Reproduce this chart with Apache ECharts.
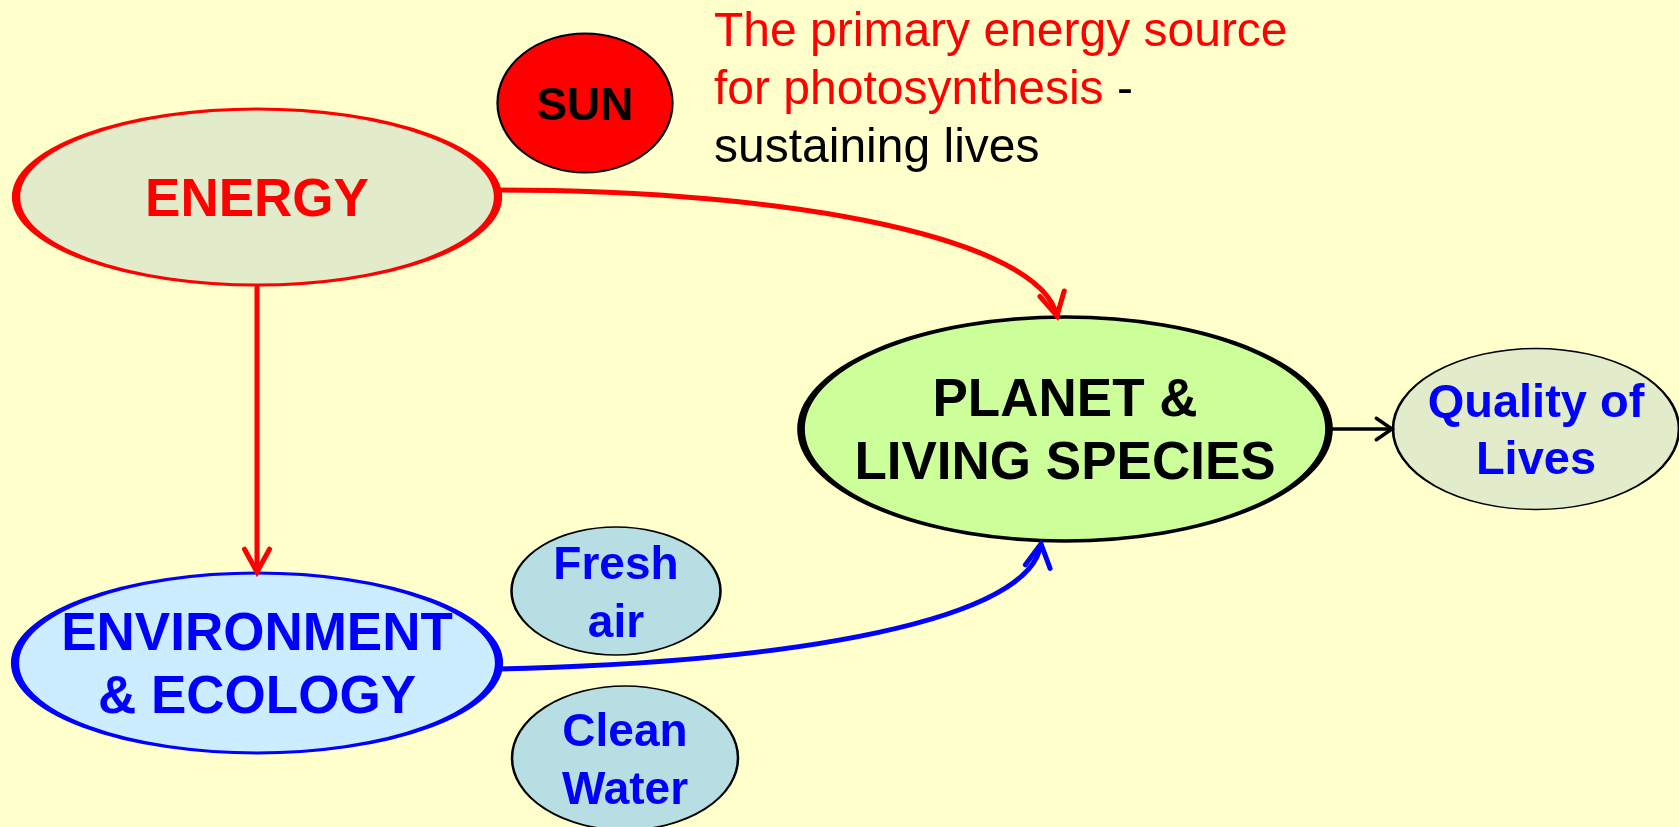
<!DOCTYPE html>
<html>
<head>
<meta charset="utf-8">
<script src="https://cdn.jsdelivr.net/npm/echarts@6/dist/echarts.min.js"></script>
<style>
  html, body { margin: 0; padding: 0; background: #FFFFCC; }
  #main { width: 1679px; height: 827px; }
</style>
</head>
<body>
<div id="main"></div>
<script type="text/javascript">
    // 节点：名称和中心点
    var nodeNames = ['ENERGY', 'SUN', 'PLANET &\nLIVING SPECIES', 'Quality of\nLives', 'ENVIRONMENT\n& ECOLOGY', 'Fresh\nair', 'Clean\nWater'];
    var nodeX = [257, 585, 1065, 1536, 257, 616, 625];
    var nodeY = [197, 103, 429, 429, 663, 591, 758];

    // 连线：起点、两个控制点、终点
    var edgeNames = ['ENERGY→PLANET', 'ENERGY→ENVIRONMENT', 'ENVIRONMENT→PLANET', 'PLANET→Quality'];
    var edgePoints = [
        [498, 190, 800, 190, 1040, 240, 1057, 316],
        [257, 286, 257, 286, 257, 572, 257, 572],
        [498, 669, 800, 662, 1030, 620, 1041, 544],
        [1330, 429, 1330, 429, 1392, 429, 1392, 429]
    ];

    // 说明文字
    var noteLines = ['The primary energy source', 'for photosynthesis', ' -', 'sustaining lives'];

    var font = "'Liberation Sans', Arial, sans-serif";

    // 样式（和数据分开放）
    var nodeStyles = [
        { size: [482, 176], fill: '#E2ECCB', border: '#FF0000', bw: 5, color: '#FF0000', fs: 53, lh: 63 },
        { size: [175, 139], fill: '#FF0000', border: '#000000', bw: 2, color: '#000000', fs: 46, lh: 56 },
        { size: [528, 224], fill: '#CCFF99', border: '#000000', bw: 5, color: '#000000', fs: 53, lh: 63 },
        { size: [286, 161], fill: '#E2ECCB', border: '#000000', bw: 2, color: '#0000FF', fs: 47, lh: 57 },
        { size: [484, 180], fill: '#CCECFF', border: '#0000FF', bw: 5, color: '#0000FF', fs: 53, lh: 63 },
        { size: [209, 128], fill: '#B7DEE3', border: '#000000', bw: 2, color: '#0000FF', fs: 46, lh: 58 },
        { size: [226, 144], fill: '#B7DEE3', border: '#000000', bw: 2, color: '#0000FF', fs: 46, lh: 58 }
    ];
    var edgeStyles = [
        { color: '#FF0000', width: 5, arm: 26, angle: 0.5 },
        { color: '#FF0000', width: 5, arm: 26, angle: 0.5 },
        { color: '#0000FF', width: 5, arm: 26, angle: 0.5 },
        { color: '#000000', width: 3.5, arm: 19, angle: 0.6 }
    ];

    var myChart = echarts.init(document.getElementById('main'));

    var nodeData = nodeNames.map(function (name, i) {
        var s = nodeStyles[i];
        return {
            name: name,
            value: [nodeX[i], nodeY[i]],
            symbolSize: s.size,
            itemStyle: { color: s.fill, borderColor: s.border, borderWidth: s.bw, opacity: 1 },
            label: { color: s.color, fontSize: s.fs, lineHeight: s.lh }
        };
    });

    var option = {
        backgroundColor: '#FFFFCC',
        animation: false,
        grid: { left: 0, right: 0, top: 0, bottom: 0 },
        xAxis: { type: 'value', min: 0, max: 1679, show: false },
        yAxis: { type: 'value', min: 0, max: 827, inverse: true, show: false },
        series: [{
            type: 'scatter',
            silent: true,
            symbol: 'circle',
            clip: false,
            data: nodeData,
            z: 2,
            itemStyle: { opacity: 1 },
            label: {
                show: true,
                position: 'inside',
                offset: [0, 4],
                formatter: '{b}',
                fontFamily: font,
                fontWeight: 'bold',
                align: 'center',
                verticalAlign: 'middle'
            }
        }, {
            type: 'scatter',
            silent: true,
            symbolSize: 0,
            z: 3,
            itemStyle: { opacity: 1 },
            data: [{ name: 'note', value: [714, 91] }],
            label: {
                show: true,
                position: 'inside',
                align: 'left',
                verticalAlign: 'middle',
                fontFamily: font,
                fontSize: 48,
                lineHeight: 58,
                formatter: function () {
                    return '{r|' + noteLines[0] + '}\n{r|' + noteLines[1] + '}{k|' + noteLines[2] + '}\n{k|' + noteLines[3] + '}';
                },
                rich: {
                    r: { color: '#FF0000', fontSize: 48, lineHeight: 58, fontFamily: font },
                    k: { color: '#000000', fontSize: 48, lineHeight: 58, fontFamily: font }
                }
            }
        }, {
            type: 'custom',
            silent: true,
            z: 4,
            data: edgePoints.map(function (p, i) { return { name: edgeNames[i], value: p }; }),
            renderItem: function (params, api) {
                var pts = [0, 1, 2, 3].map(function (k) {
                    return api.coord([api.value(2 * k), api.value(2 * k + 1)]);
                });
                var st = edgeStyles[params.dataIndex];
                var tip = pts[3];
                var dx = tip[0] - pts[2][0], dy = tip[1] - pts[2][1];
                if (Math.abs(dx) + Math.abs(dy) < 0.1) {
                    dx = tip[0] - pts[0][0]; dy = tip[1] - pts[0][1];
                }
                var len = Math.sqrt(dx * dx + dy * dy);
                dx /= len; dy /= len;
                function arm(a) {
                    var c = Math.cos(a), s = Math.sin(a);
                    var rx = dx * c - dy * s, ry = dx * s + dy * c;
                    return [tip[0] - rx * st.arm, tip[1] - ry * st.arm];
                }
                return {
                    type: 'group',
                    children: [{
                        type: 'bezierCurve',
                        shape: {
                            x1: pts[0][0], y1: pts[0][1],
                            cpx1: pts[1][0], cpy1: pts[1][1],
                            cpx2: pts[2][0], cpy2: pts[2][1],
                            x2: pts[3][0], y2: pts[3][1]
                        },
                        style: { stroke: st.color, lineWidth: st.width, fill: null }
                    }, {
                        type: 'polyline',
                        shape: { points: [arm(st.angle), tip, arm(-st.angle)] },
                        style: { stroke: st.color, lineWidth: st.width, fill: null, lineCap: 'round', lineJoin: 'miter' }
                    }]
                };
            }
        }]
    };

    myChart.setOption(option);
</script>
</body>
</html>
